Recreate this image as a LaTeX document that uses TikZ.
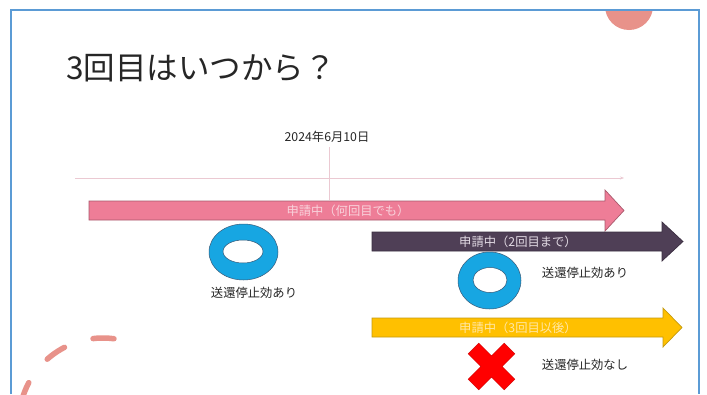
\documentclass[tikz,border=0pt]{standalone}
\usepackage{fontspec}
\setmainfont{Noto Sans CJK JP}
\usetikzlibrary{arrows.meta}
\definecolor{bordblue}{HTML}{5B9BD5}
\definecolor{salmon}{HTML}{E8928A}
\definecolor{pinkarrow}{HTML}{EE7D97}
\definecolor{pinkedge}{HTML}{A9586C}
\definecolor{pinktext}{HTML}{F9D3DC}
\definecolor{darkarrow}{HTML}{4F3F56}
\definecolor{darkedge}{HTML}{3A2E40}
\definecolor{darktext}{HTML}{E2DAE4}
\definecolor{yellowarrow}{HTML}{FFC000}
\definecolor{yellowedge}{HTML}{C49A10}
\definecolor{yellowtext}{HTML}{FFE7A6}
\definecolor{donutblue}{HTML}{17A6E2}
\definecolor{donutedge}{HTML}{3A5A78}
\definecolor{timeline}{HTML}{EBC9D2}
\definecolor{crossred}{HTML}{FF0000}
\definecolor{textgray}{HTML}{262626}
\tikzset{
  bar/.style={line width=0.7pt, line join=miter},
  arrowtext/.style={font=\fontsize{12.3}{14}\selectfont, inner sep=0pt},
  lbltext/.style={font=\fontsize{12.3}{14}\selectfont, text=textgray, inner sep=0pt},
  donut/.style={fill=donutblue, draw=donutedge, line width=0.5pt, even odd rule},
  crossx/.style={fill=crossred, draw=crossred!80!black, line width=0.4pt},
}
\begin{document}
\begin{tikzpicture}[x=1pt,y=-1pt]
\useasboundingbox (0,0) rectangle (707,394);
\fill[white] (0,0) rectangle (707,394);
% decorative salmon circle (top right)
\begin{scope}
  \clip (11,10.5) rectangle (699,394);
  \fill[salmon] (629,6) circle[radius=24];
\end{scope}
% slide border
\draw[bordblue, line width=1.2pt] (11,394) -- (11,10) -- (699,10) -- (699,394);
% dashed decorative arc (bottom left)
\begin{scope}
  \clip (12,11) rectangle (698,394);
  \draw[salmon, line width=5.5pt, line cap=round, dash pattern=on 21pt off 30pt]
    (103,422) ++(-82.5:84) arc[start angle=-82.5, end angle=-200, radius=84];
\end{scope}
% title
\node[anchor=west, font=\fontsize{31.5}{38}\selectfont, text=textgray, inner sep=0pt] (title) at (66,68) {3回目はいつから？};
% date marker
\node[lbltext] (date) at (327,137) {2024年6月10日};
\coordinate (vtop) at (329,147);
\coordinate (vbot) at (329,200);
\draw[timeline, line width=0.7pt] (vtop) -- (vbot);
% timeline
\coordinate (tl0) at (75,178);
\coordinate (tl1) at (624,178);
\draw[timeline, line width=0.8pt, -{Stealth[length=4pt,width=3pt]}] (tl0) -- (tl1);
% pink arrow
\draw[bar, fill=pinkarrow, draw=pinkedge]
  (89,201) -- (605,201) -- (605,190) -- (624,210.5) -- (605,231) -- (605,220) -- (89,220) -- cycle;
\node[arrowtext, text=pinktext] (t1) at (348,210.5) {申請中（何回目でも）};
% dark arrow
\draw[bar, fill=darkarrow, draw=darkedge]
  (372,232) -- (662,232) -- (662,222) -- (683,241.5) -- (662,261) -- (662,251) -- (372,251) -- cycle;
\node[arrowtext, text=darktext] (t2) at (518,241.5) {申請中（2回目まで）};
% yellow arrow
\draw[bar, fill=yellowarrow, draw=yellowedge]
  (372,318) -- (663,318) -- (663,308) -- (682,327.5) -- (663,347) -- (663,337) -- (372,337) -- cycle;
\node[arrowtext, text=yellowtext] (t3) at (518,327.5) {申請中（3回目以後）};
% donut 1
\path[donut] (243.5,252) ellipse[x radius=34.5, y radius=28] (243,251.5) ellipse[x radius=20, y radius=11.5];
\node[lbltext] (l1) at (254,293) {送還停止効あり};
% donut 2
\path[donut] (489.5,280.5) ellipse[x radius=31.5, y radius=28.5] (490,280) ellipse[x radius=17, y radius=12.5];
\node[lbltext] (l2) at (585,273) {送還停止効あり};
% red cross
\begin{scope}[shift={(491.5,366.5)}, rotate=45]
  \path[crossx] (-7.5,25.5) -- (7.5,25.5) -- (7.5,7.5) -- (25.5,7.5) -- (25.5,-7.5) -- (7.5,-7.5)
    -- (7.5,-25.5) -- (-7.5,-25.5) -- (-7.5,-7.5) -- (-25.5,-7.5) -- (-25.5,7.5) -- (-7.5,7.5) -- cycle;
\end{scope}
\node[lbltext] (l3) at (585,365) {送還停止効なし};
\end{tikzpicture}
\end{document}
